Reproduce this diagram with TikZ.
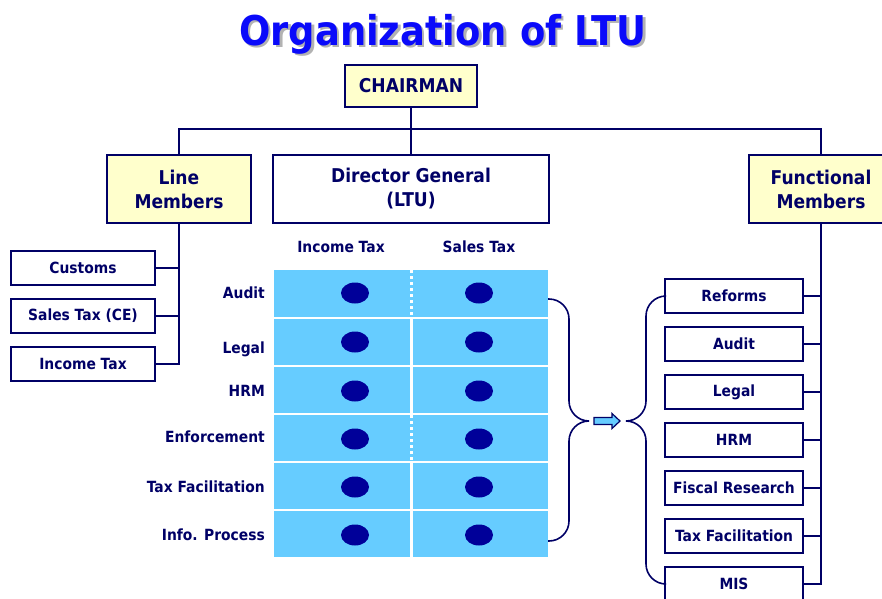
\documentclass[tikz,border=0pt]{standalone}
\usepackage{fontspec}
\setmainfont[FakeStretch=0.9]{DejaVu Sans}
\usetikzlibrary{shapes.geometric}
\definecolor{navy}{RGB}{0,0,102}
\definecolor{dotblue}{RGB}{0,0,153}
\definecolor{cellblue}{RGB}{102,204,255}
\definecolor{paleyellow}{RGB}{255,255,204}
\definecolor{titleblue}{RGB}{10,10,250}
\newcommand{\shadowed}[1]{\rlap{\hspace{2.5pt}\raisebox{-2.5pt}{\color{black!30}#1}}#1}

\begin{document}
\begin{tikzpicture}[x=1pt,y=-1pt,
	box/.style={draw=navy,line width=1.6pt,fill=white,text=navy,inner sep=0pt,
		font=\bfseries\fontsize{15.4}{17}\selectfont,minimum height=34pt},
	headbox/.style={box,fill=paleyellow,align=center,font=\bfseries\fontsize{19}{24}\selectfont},
	link/.style={draw=navy,line width=1.6pt},
	lbl/.style={text=navy,inner sep=0pt,font=\bfseries\fontsize{15.4}{17}\selectfont},
	dot/.style={ellipse,fill=dotblue,minimum width=28pt,minimum height=21pt,inner sep=0pt}]
	\useasboundingbox (0,0) rectangle (882,598);
	% title, shadow drawn under it
	\node[anchor=base,text=titleblue,font=\bfseries\fontsize{41}{44}\selectfont] (title) at (443,45) {\shadowed{Organization of LTU}};
	% top of the chart
	\node[headbox,minimum width=132pt,minimum height=42pt,font=\bfseries\fontsize{19}{21}\selectfont] (chair) at (411,86) {CHAIRMAN};
	\node[headbox,minimum width=144pt,minimum height=68pt] (line) at (179,189) {Line\\Members};
	\node[headbox,fill=white,minimum width=276pt,minimum height=68pt] (dg) at (411,189) {Director General\\(LTU)};
	\node[headbox,minimum width=144pt,minimum height=68pt] (func) at (821,189) {Functional\\Members};
	\draw[link] (chair) -- (dg);
	\draw[link] (line.north) -- ++(0,-25) -| (func.north);
	% line members
	\node[box,minimum width=144pt] (lcust) at (83,268) {Customs};
	\node[box,minimum width=144pt] (lstax) at (83,316) {Sales Tax (CE)};
	\node[box,minimum width=144pt] (litax) at (83,364) {Income Tax};
	\draw[link] (line.south) |- (litax.east);
	\draw[link] (lcust.east) -- (lcust.east -| line.south);
	\draw[link] (lstax.east) -- (lstax.east -| line.south);
	% functional members
	\node[box,minimum width=138pt] (fref) at (734,296) {Reforms};
	\node[box,minimum width=138pt] (faud) at (734,344) {Audit};
	\node[box,minimum width=138pt] (fleg) at (734,392) {Legal};
	\node[box,minimum width=138pt] (fhrm) at (734,440) {HRM};
	\node[box,minimum width=138pt] (ffis) at (734,488) {Fiscal Research};
	\node[box,minimum width=138pt] (ffac) at (734,536) {Tax Facilitation};
	\node[box,minimum width=138pt] (fmis) at (734,584) {MIS};
	\draw[link] (func.south) |- (fmis.east);
	\draw[link] (fref.east) -- (fref.east -| func.south);
	\draw[link] (faud.east) -- (faud.east -| func.south);
	\draw[link] (fleg.east) -- (fleg.east -| func.south);
	\draw[link] (fhrm.east) -- (fhrm.east -| func.south);
	\draw[link] (ffis.east) -- (ffis.east -| func.south);
	\draw[link] (ffac.east) -- (ffac.east -| func.south);
	% the tax grid
	\fill[cellblue] (274,270) rectangle (548,557);
	\draw[white,line width=2pt] (274,318) -- (548,318) (274,366) -- (548,366) (274,414) -- (548,414)
		(274,462) -- (548,462) (274,510) -- (548,510);
	\draw[white,line width=3pt] (411,319) -- (411,413) (411,463) -- (411,557);
	\draw[white,line width=3pt,dash pattern=on 3pt off 3pt] (411,270) -- (411,317) (411,415) -- (411,461);
	\node[lbl] (hinc) at (341,247) {Income Tax};
	\node[lbl] (hsal) at (479,247) {Sales Tax};
	\node[lbl,anchor=east] (raud) at (265,293) {Audit};
	\node[lbl,anchor=east] (rleg) at (265,349) {Legal};
	\node[lbl,anchor=east] (rhrm) at (265,391) {HRM};
	\node[lbl,anchor=east] (renf) at (265,437) {Enforcement};
	\node[lbl,anchor=east] (rfac) at (265,487) {Tax Facilitation};
	\node[lbl,anchor=east] (rinf) at (265,535) {Info. Process};
	\node[dot] (i1) at (355,293) {}; \node[dot] (s1) at (479,293) {};
	\node[dot] (i2) at (355,342) {}; \node[dot] (s2) at (479,342) {};
	\node[dot] (i3) at (355,391) {}; \node[dot] (s3) at (479,391) {};
	\node[dot] (i4) at (355,439) {}; \node[dot] (s4) at (479,439) {};
	\node[dot] (i5) at (355,487) {}; \node[dot] (s5) at (479,487) {};
	\node[dot] (i6) at (355,535) {}; \node[dot] (s6) at (479,535) {};
	% braces and the arrow between them
	\draw[link,rounded corners=20pt] (548,299) -| (569,421) -- (589,421);
	\draw[link,rounded corners=20pt] (589,421) -| (569,541) -- (548,541);
	\draw[link,rounded corners=20pt] (fref.west) -| (646,421) -- (626,421);
	\draw[link,rounded corners=20pt] (626,421) -| (646,584) -- (fmis.west);
	\draw[navy,fill=cellblue,line width=1.2pt,line join=miter]
		(594,417.5) -- (612,417.5) -- (612,413.5) -- (620,421) -- (612,428.5) -- (612,424.5) -- (594,424.5) -- cycle;
\end{tikzpicture}
\end{document}
